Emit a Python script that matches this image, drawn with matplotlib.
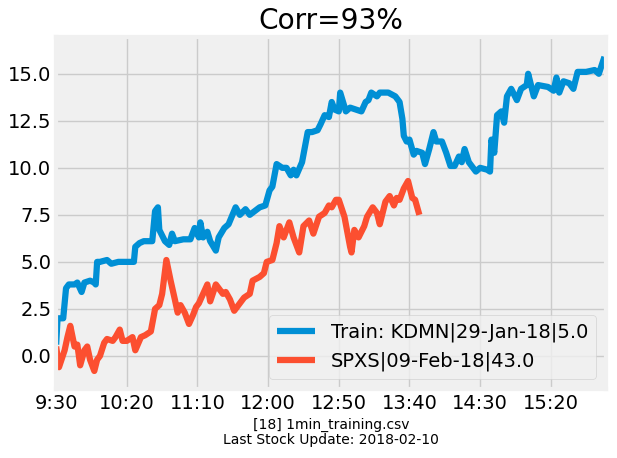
import numpy as np
import matplotlib
matplotlib.use('Agg')
import matplotlib.pyplot as plt

plt.style.use('fivethirtyeight')

# minutes after 9:30 and values
train_min = [0, 1, 5, 7, 9, 13, 15, 18, 20, 24, 27, 28, 29, 31, 36, 39, 44, 55, 56, 59,
             62, 68, 70, 72, 73, 77, 80, 82, 84, 90, 95, 98, 101, 102, 104, 107, 109, 113,
             115, 119, 122, 127, 130, 134, 137, 144, 148, 151, 153, 156, 160, 163, 166,
             168, 170, 174, 178, 181, 185, 187, 190, 193, 195, 197, 200, 201, 203, 205,
             208, 212, 216, 219, 221, 223, 227, 229, 235, 240, 243, 245, 246, 248, 250,
             253, 255, 259, 261, 264, 267, 269, 273, 276, 279, 282, 285, 287, 289, 292,
             294, 297, 300, 305, 307, 308, 310, 312, 315, 317, 319, 322, 326, 329, 333,
             334, 338, 341, 348, 352, 354, 356, 359, 363, 366, 369, 375, 381, 384, 388]
train_val = [0.6, 2.0, 2.0, 3.6, 3.8, 3.8, 3.9, 3.4, 3.9, 4.0, 3.9, 3.8, 5.0, 5.0, 5.1,
             4.9, 5.0, 5.0, 5.8, 6.0, 6.1, 6.1, 7.7, 7.9, 6.7, 6.1, 5.9, 6.5, 6.1, 6.2,
             6.2, 6.8, 6.3, 7.1, 6.3, 6.6, 6.1, 5.6, 6.3, 6.8, 7.0, 7.9, 7.5, 7.8, 7.5,
             7.9, 8.0, 8.8, 9.0, 10.2, 10.0, 10.0, 9.6, 9.9, 9.6, 10.3, 11.9, 11.9, 12.0,
             12.3, 12.8, 12.7, 13.5, 13.1, 13.0, 14.0, 13.5, 13.0, 13.2, 13.1, 13.0, 13.5,
             13.6, 14.0, 13.8, 14.0, 14.0, 13.8, 13.5, 12.6, 11.7, 11.4, 11.5, 10.7, 10.9,
             10.8, 10.2, 11.0, 11.9, 11.4, 11.4, 10.8, 10.1, 10.1, 10.6, 10.3, 11.0, 10.3,
             10.1, 9.8, 10.0, 9.9, 9.8, 11.5, 10.8, 12.8, 13.0, 12.4, 13.8, 14.2, 13.6,
             14.2, 14.4, 15.0, 13.8, 14.4, 14.3, 14.1, 14.8, 14.0, 14.6, 14.5, 14.2, 15.1,
             15.1, 15.2, 15.0, 15.9]

spxs_min = [0, 2, 6, 8, 10, 13, 15, 17, 20, 22, 24, 27, 29, 31, 34, 36, 40, 42, 45, 47,
            50, 54, 56, 60, 63, 67, 70, 73, 75, 78, 81, 84, 86, 88, 91, 94, 97, 99, 101,
            107, 109, 113, 118, 120, 123, 126, 130, 133, 137, 139, 144, 147, 149, 153,
            156, 158, 161, 165, 168, 172, 175, 179, 182, 186, 190, 193, 195, 198, 200,
            204, 206, 208, 209, 211, 214, 218, 220, 224, 227, 229, 233, 236, 239, 241,
            243, 246, 249, 252, 254, 257]
spxs_val = [0.5, -0.6, 0.3, 1.0, 1.6, 0.5, 0.6, -0.5, 0.3, 0.5, -0.2, -0.8, -0.2, 0.0,
            0.7, 0.9, 0.8, 1.0, 1.4, 0.8, 0.8, 1.0, 0.3, 1.0, 1.1, 1.3, 2.5, 2.7, 3.3,
            5.1, 4.0, 3.0, 2.3, 2.7, 2.3, 1.7, 2.2, 2.6, 2.8, 3.8, 2.9, 3.8, 3.3, 3.4,
            3.0, 2.4, 2.8, 3.1, 3.3, 4.0, 4.2, 4.4, 5.0, 5.1, 6.0, 6.9, 6.3, 7.1, 6.3,
            5.5, 6.9, 7.2, 6.5, 7.4, 7.6, 8.0, 7.9, 8.3, 8.3, 7.4, 6.6, 5.8, 5.5, 6.7,
            6.3, 6.9, 7.4, 7.9, 7.6, 7.0, 8.2, 8.5, 8.0, 8.4, 8.3, 8.9, 9.3, 8.4, 8.3, 7.5]

tick_pos = [0, 50, 100, 150, 200, 250, 300, 350]
tick_lab = ['9:30', '10:20', '11:10', '12:00', '12:50', '13:40', '14:30', '15:20']

fig = plt.figure(figsize=(6.17, 4.58), dpi=100, facecolor='white')
ax = fig.add_axes([0.091, 0.151, 0.891, 0.768])

ax.plot(train_min, train_val, lw=4.5, label='Train: KDMN|29-Jan-18|5.0')
ax.plot(spxs_min, spxs_val, lw=4.5, label='SPXS|09-Feb-18|43.0')

ax.set_xlim(0, 389)
ax.set_ylim(-1.75, 16.95)
ax.set_xticks(tick_pos)
ax.set_xticklabels(tick_lab)
ax.set_yticks([0.0, 2.5, 5.0, 7.5, 10.0, 12.5, 15.0])
ax.set_title('Corr=93%')
ax.set_xlabel('[18] 1min_training.csv\nLast Stock Update: 2018-02-10', fontsize=10, linespacing=1.1)
ax.legend(loc='lower right')

fig.savefig('out.png', dpi=100, facecolor='white')
